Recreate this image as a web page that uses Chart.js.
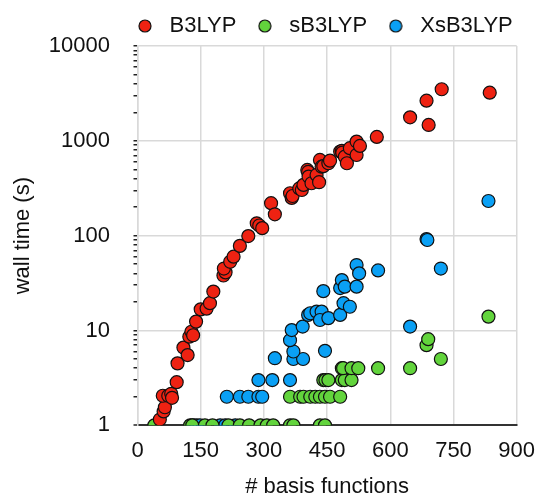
<!DOCTYPE html>
<html><head><meta charset="utf-8">
<script src="https://cdn.jsdelivr.net/npm/chart.js@4"></script>
<style>html,body{margin:0;padding:0;background:#fff;}#wrap{width:536px;height:497px;}</style>
</head><body><div id="wrap"><canvas id="c" width="536" height="497"></canvas></div>
<script>
// ---- data ----
const seriesNames = ['B3LYP', 'sB3LYP', 'XsB3LYP'];

const b3lypX = [53,62,65,60,73,80,82,93,95,109,119,123,128,132,139,150,164,172,180,204,209,205,220,228,243,263,283,289,296,317,326,362,366,368,384,390,394,403,405,406,413,425,431,433,437,441,453,457,481,485,486,492,497,504,520,520,528,568,647,686,691,722,836];
const b3lypY = [1.15,1.4,1.55,2.05,2.05,2.15,1.95,2.85,4.5,6.6,5.5,8.6,9.7,8.9,12.4,16.7,17,19.4,25.7,38,41,45,53,60,78,99,135,128,120,220,168,280,250,262,315,303,343,493,470,420,357,437,366,629,534,540,580,618,770,782,750,680,580,836,982,709,883,1100,1770,2650,1470,3500,3220];

const sb3lypX = [40,125,130,160,178,216,243,265,292,307,322,362,370,433,445, 362,386,394,410,422,433,445,457,481, 441,446,453,485,492,508, 485,488,508,524,571,647, 686,690,720,833];
const sb3lypY = [1,1,1,1,1,1,1,1,1,1,1,1,1,1,1, 2,2,2,2,2,2,2,2,2, 3,3,3,3,3,3, 4,4,4,4,4,4, 7,8.1,5,14];

const xsb3lypX = [132,140,148,196,208,232, 212,243,263,287,296, 287,320,362, 326,370,393,370,445, 362,366,392,405,410,425,437,433,453,481,489,504,441, 481,485,492,520,520,526,571, 647,686,688,720,833];
const xsb3lypY = [1,1,1,1,1,1, 2,2,2,2,2, 3,3,3, 5.1,5,5,6,6.1, 7.9,10.1,11,14.6,15.2,15.8,15.8,12.9,13.5,14.6,19.4,17.8,26, 28,34,29,29,49,40,43, 11,92,90,45,232];

const xTicks = [0, 150, 300, 450, 600, 750, 900];
const yTickLabels = ['1', '10', '100', '1000', '10000'];

// ---- styling ----
const FONT = "'Liberation Sans', Arial, Helvetica, sans-serif";
const colors = ['#ee2212', '#62d43c', '#0aa0f5'];

function pts(xs, ys) { return xs.map((x, i) => ({x: x, y: ys[i]})); }
function makeIcon(color) {
  const c = document.createElement('canvas');
  c.width = 14; c.height = 14;
  const g = c.getContext('2d');
  g.beginPath(); g.arc(7, 7, 6, 0, Math.PI * 2);
  g.fillStyle = color; g.fill();
  g.lineWidth = 1.2; g.strokeStyle = '#111'; g.stroke();
  return c;
}
const legendIcons = colors.map(makeIcon);
const majorVals = yTickLabels.map(Number);

const legendPos = {
  id: 'legendPos',
  beforeDraw(chart) {
    const lg = chart.legend;
    if (!lg) return;
    lg.left = 131.5 - 15;
    lg.right = 536;
    lg.top = 15 - 15;
  }
};

new Chart(document.getElementById('c'), {
  type: 'scatter',
  data: {
    datasets: [
      {label: seriesNames[0], data: pts(b3lypX, b3lypY), backgroundColor: colors[0]},
      {label: seriesNames[1], data: pts(sb3lypX, sb3lypY), backgroundColor: colors[1]},
      {label: seriesNames[2], data: pts(xsb3lypX, xsb3lypY), backgroundColor: colors[2]}
    ].map(d => Object.assign(d, {borderColor: '#111', borderWidth: 1.2, pointRadius: 6.5, pointHoverRadius: 6.5}))
  },
  options: {
    responsive: false,
    animation: false,
    devicePixelRatio: 1,
    layout: {padding: {left: 0, right: 0, top: 0, bottom: 0}},
    plugins: {
      tooltip: {enabled: false},
      legend: {
        position: 'top',
        align: 'start',
        maxHeight: 46,
        labels: {
          usePointStyle: true,
          pointStyleWidth: 27,
          padding: 15,
          color: '#111',
          font: {family: FONT, size: 22},
          generateLabels(chart) {
            const items = Chart.defaults.plugins.legend.labels.generateLabels(chart);
            items.forEach((it, i) => { it.pointStyle = legendIcons[i]; });
            return items;
          }
        }
      }
    },
    scales: {
      x: {
        type: 'linear',
        min: 0, max: 900,
        afterBuildTicks(s) { s.ticks = xTicks.map(v => ({value: v})); },
        afterFit(s) { s.height = 71.7; s.paddingLeft = 0; s.paddingRight = 19.3; },
        ticks: {color: '#111', font: {family: FONT, size: 22}, padding: 12, maxRotation: 0, autoSkip: false},
        grid: {color: '#d9d9d9', lineWidth: 1.5, drawTicks: false},
        border: {color: '#333', width: 2},
        title: {display: true, text: '# basis functions', color: '#111', font: {family: FONT, size: 22}, padding: {top: 0, bottom: -3.5}}
      },
      y: {
        type: 'logarithmic',
        min: 1, max: 10000,
        afterBuildTicks(s) {
          const t = [];
          for (let d = 1; d < 10000; d *= 10) {
            for (let m = 1; m <= 9; m++) t.push({value: m * d, major: m === 1});
          }
          t.push({value: 10000, major: true});
          s.ticks = t;
        },
        afterFit(s) { s.width = 137.5; },
        ticks: {
          color: '#111', font: {family: FONT, size: 22}, padding: 23.5, autoSkip: false,
          callback: (v) => yTickLabels.includes(String(v)) ? String(v) : ''
        },
        grid: {
          color: (ctx) => {
            const v = ctx.tick && ctx.tick.value;
            if (v === 1) return '#333';
            return majorVals.includes(v) ? '#d9d9d9' : 'rgba(0,0,0,0)';
          },
          lineWidth: (ctx) => (ctx.tick && ctx.tick.value === 1) ? 2 : 1.5,
          tickColor: '#222',
          tickLength: 4,
          tickWidth: 1.5,
          drawTicks: true
        },
        border: {color: '#d9d9d9', width: 1.5},
        title: {display: true, text: 'wall time (s)', color: '#111', font: {family: FONT, size: 22}, padding: {top: 9.3, bottom: 0}}
      }
    }
  },
  plugins: [legendPos]
});
</script>
</body></html>
